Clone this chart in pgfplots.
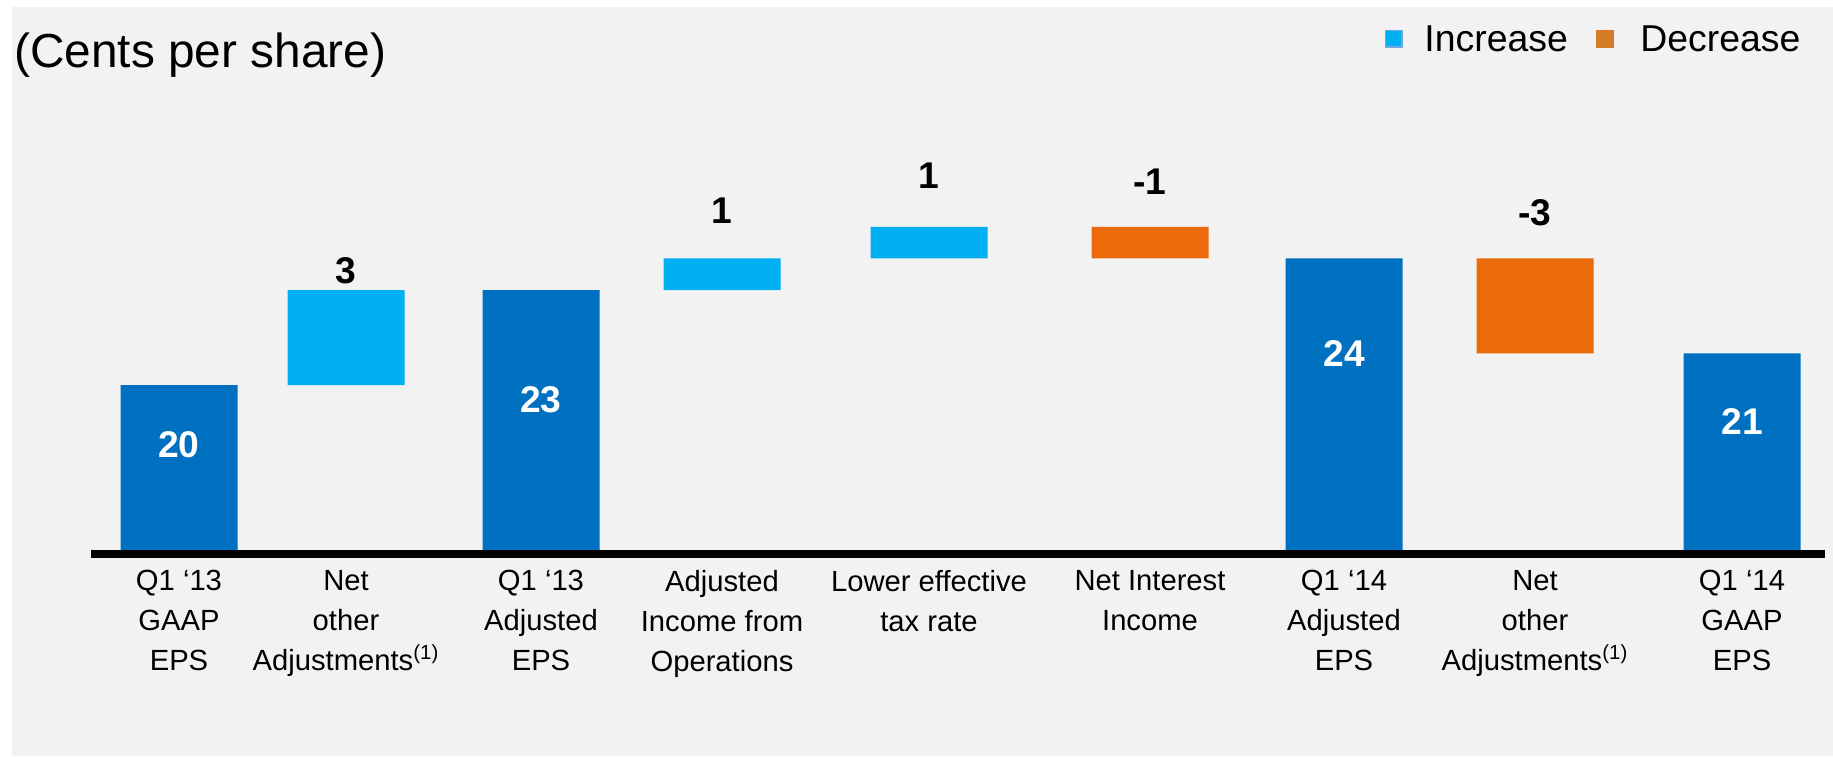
\documentclass[border=0pt]{standalone}
\usepackage{fontspec}
\setmainfont{Liberation Sans}
\usepackage{pgfplots}
\pgfplotsset{compat=1.18}

\definecolor{bggray}{HTML}{F2F2F2}
\definecolor{totblue}{HTML}{0070C0}
\definecolor{incblue}{HTML}{00B0F0}
\definecolor{incborder}{HTML}{6FA8DC}
\definecolor{decorange}{HTML}{EB6A0A}
\definecolor{legorange}{HTML}{D67C28}

\newcommand{\lblfont}{\bfseries\fontsize{18.6}{20}\selectfont}

\begin{document}
\begin{tikzpicture}
% slide background
\fill[white] (0,0) rectangle (916.5pt,-378pt);
\fill[bggray] (6pt,-3.5pt) rectangle (916.5pt,-378pt);
\node[anchor=west, inner sep=0pt, font=\fontsize{23.9}{28}\selectfont] at (7pt,-27.5pt) {(Cents per share)};

% legend
\fill[incborder] (692.5pt,-15pt) rectangle (701.3pt,-23.8pt);
\fill[incblue] (693.1pt,-15.6pt) rectangle (700.7pt,-23.2pt);
\node[anchor=west, inner sep=0pt, font=\fontsize{18.7}{22}\selectfont] at (712pt,-19.4pt) {Increase};
\fill[legorange] (798pt,-15pt) rectangle (806.8pt,-23.8pt);
\node[anchor=west, inner sep=0pt, font=\fontsize{18.7}{22}\selectfont] at (820pt,-19.4pt) {Decrease};

\begin{axis}[
  at={(45.5pt,-277pt)}, anchor=south west,
  scale only axis, width=867pt, height=207pt,
  xmin=0.91, xmax=18.25, ymin=14.66, ymax=27.745,
  ybar stacked, bar width=1.17,
  axis x line*=bottom, axis y line=none,
  axis line style={line width=3.85pt, black},
  axis on top,
  ytick=\empty,
  xtick={1.79,3.46,5.41,7.22,9.29,11.50,13.44,15.35,17.42},
  xticklabels={
    {Q1 ‘13\\GAAP\\EPS},
    {Net\\other\\Adjustments\textsuperscript{(1)}},
    {Q1 ‘13\\Adjusted\\EPS},
    {Adjusted\\Income from\\Operations},
    {Lower effective\\tax rate},
    {Net Interest\\Income},
    {Q1 ‘14\\Adjusted\\EPS},
    {Net\\other\\Adjustments\textsuperscript{(1)}},
    {Q1 ‘14\\GAAP\\EPS}},
  major tick length=0pt,
  xticklabel style={align=center, font=\fontsize{14.6}{19.9}\selectfont, inner sep=0pt, yshift=-8pt},
]
% invisible base of the floating bars
\addplot[draw=none, fill=none] coordinates {(1.79,0) (3.46,20) (5.41,0) (7.22,23) (9.29,24) (11.50,24) (13.44,0) (15.35,21) (17.42,0)};
% increases
\addplot[draw=none, fill=incblue] coordinates {(1.79,0) (3.46,3) (5.41,0) (7.22,1) (9.29,1) (11.50,0) (13.44,0) (15.35,0) (17.42,0)};
% EPS totals
\addplot[draw=none, fill=totblue] coordinates {(1.79,20) (3.46,0) (5.41,23) (7.22,0) (9.29,0) (11.50,0) (13.44,24) (15.35,0) (17.42,21)};
% decreases
\addplot[draw=none, fill=decorange] coordinates {(1.79,0) (3.46,0) (5.41,0) (7.22,0) (9.29,0) (11.50,1) (13.44,0) (15.35,3) (17.42,0)};

% label anchors (drawn after the axis so the bars do not cover them)
\coordinate (v1) at (axis cs:1.79,18.13);
\coordinate (v2) at (axis cs:3.46,23.61);
\coordinate (v3) at (axis cs:5.41,19.53);
\coordinate (v4) at (axis cs:7.22,25.52);
\coordinate (v5) at (axis cs:9.29,26.63);
\coordinate (v6) at (axis cs:11.50,26.44);
\coordinate (v7) at (axis cs:13.44,21.01);
\coordinate (v8) at (axis cs:15.35,25.44);
\coordinate (v9) at (axis cs:17.42,18.84);
\end{axis}

\node[font=\lblfont, inner sep=0pt, text=white] at (v1) {20};
\node[font=\lblfont, inner sep=0pt] at (v2) {3};
\node[font=\lblfont, inner sep=0pt, text=white] at (v3) {23};
\node[font=\lblfont, inner sep=0pt] at (v4) {1};
\node[font=\lblfont, inner sep=0pt] at (v5) {1};
\node[font=\lblfont, inner sep=0pt] at (v6) {-1};
\node[font=\lblfont, inner sep=0pt, text=white] at (v7) {24};
\node[font=\lblfont, inner sep=0pt] at (v8) {-3};
\node[font=\lblfont, inner sep=0pt, text=white] at (v9) {21};
\end{tikzpicture}
\end{document}
